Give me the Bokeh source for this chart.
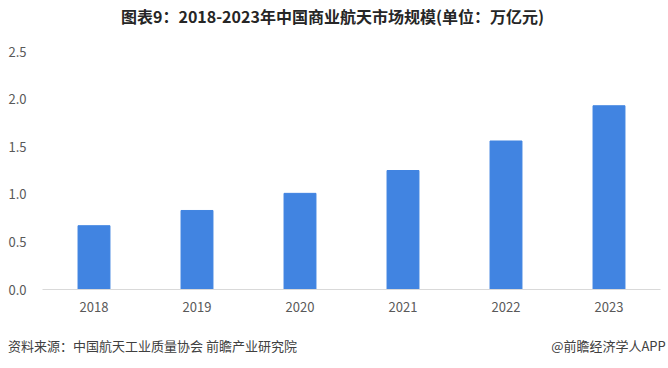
from bokeh.plotting import figure
from bokeh.models import Range1d, FixedTicker, CustomJSTickFormatter, LinearAxis
from bokeh.embed import file_html
from bokeh.resources import INLINE

years = ["2018", "2019", "2020", "2021", "2022", "2023"]
values = [0.67, 0.83, 1.01, 1.25, 1.56, 1.93]
y_ticks = [0, 0.5, 1.0, 1.5, 2.0, 2.5]

title_text = "图表9：2018-2023年中国商业航天市场规模(单位：万亿元)"
source_text = "资料来源：中国航天工业质量协会 前瞻产业研究院"
brand_text = "@前瞻经济学人APP"

FONT = "Noto Sans CJK SC"

xpos = [i + 0.5 for i in range(len(years))]

p = figure(x_range=Range1d(0, len(years)), y_range=Range1d(0, 2.5), width=668, height=368,
           output_backend="svg", toolbar_location=None, title=None,
           min_border_left=42, min_border_right=8, min_border_top=51, min_border_bottom=79)

p.vbar(x=xpos, top=values, width=0.31, color="#4184E1")

p.xgrid.visible = False
p.ygrid.visible = False
p.outline_line_color = None

p.xaxis.ticker = FixedTicker(ticks=xpos)
p.xaxis.major_label_overrides = {x: y for x, y in zip(xpos, years)}
p.xaxis.axis_line_color = "#D9D9D9"
p.xaxis.major_tick_line_color = None
p.xaxis.minor_tick_line_color = None
p.xaxis.major_label_text_font = FONT
p.xaxis.major_label_text_font_size = "13px"
p.xaxis.major_label_text_color = "#595959"
p.xaxis.major_label_standoff = 6

p.yaxis.axis_line_color = None
p.yaxis.major_tick_line_color = None
p.yaxis.minor_tick_line_color = None
p.yaxis.ticker = FixedTicker(ticks=y_ticks)
p.yaxis.formatter = CustomJSTickFormatter(code="return tick.toFixed(1);")
p.yaxis.major_label_text_font = FONT
p.yaxis.major_label_text_font_size = "13px"
p.yaxis.major_label_text_color = "#595959"
p.yaxis.major_label_standoff = 10

# text-only axes on a pixel-like extra range for the title and the footer line
p.extra_x_ranges = {"px": Range1d(42, 660)}

head = LinearAxis(x_range_name="px", ticker=FixedTicker(ticks=[332]),
                  major_label_overrides={332: title_text})
head.axis_line_color = None
head.major_tick_line_color = None
head.minor_tick_line_color = None
head.major_label_text_font = FONT
head.major_label_text_font_size = "16px"
head.major_label_text_font_style = "bold"
head.major_label_text_color = "#262626"
head.major_label_standoff = 18
p.add_layout(head, "above")

foot = LinearAxis(x_range_name="px", ticker=FixedTicker(ticks=[152, 608]),
                  major_label_overrides={152: source_text, 608: brand_text})
foot.axis_line_color = None
foot.major_tick_line_color = None
foot.minor_tick_line_color = None
foot.major_label_text_font = FONT
foot.major_label_text_font_size = "13px"
foot.major_label_text_color = "#404040"
foot.major_label_standoff = 15
p.add_layout(foot, "below")

open("out.html", "w").write(file_html(p, INLINE))
